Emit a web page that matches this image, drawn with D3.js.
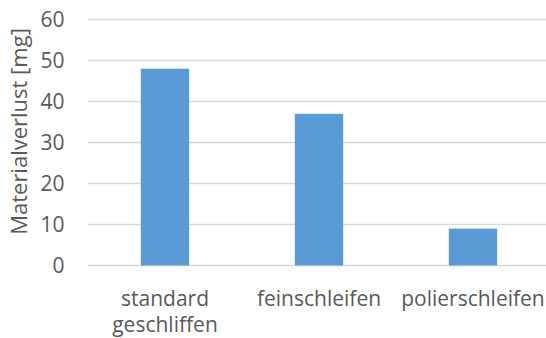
<!DOCTYPE html>
<html><head><meta charset="utf-8">
<script src="https://cdn.jsdelivr.net/npm/d3@7"></script>
<style>body{margin:0;background:#fff}svg{display:block}</style>
</head><body>
<svg id="c" width="546" height="338"></svg>
<script>
const categories = [["standard","geschliffen"],["feinschleifen"],["polierschleifen"]];
const values = [48, 37, 9];
const yTicks = [0,10,20,30,40,50,60];
const yTitle = "Materialverlust [mg]";

const svg = d3.select("#c");
const font = "'Open Sans', sans-serif";
const x = d3.scaleBand().domain(d3.range(categories.length)).range([88, 550]).padding(0);
const y = d3.scaleLinear().domain([0,60]).range([265.5, 19.5]);
const barW = x.bandwidth()*0.314;

svg.append("g").selectAll("line").data(yTicks).join("line")
  .attr("x1",88).attr("x2",546)
  .attr("y1",d=>y(d)).attr("y2",d=>y(d))
  .attr("stroke","#d9d9d9").attr("stroke-width",1.3);

svg.append("g").selectAll("text").data(yTicks).join("text")
  .attr("x",64.5).attr("y",d=>y(d)).attr("dy","0.36em")
  .attr("text-anchor","end").attr("font-family",font).attr("font-size",21)
  .attr("fill","#595959").text(d=>d);

svg.append("g").selectAll("rect").data(values).join("rect")
  .attr("x",(d,i)=>x(i)+x.bandwidth()/2-barW/2).attr("width",barW)
  .attr("y",d=>y(d)).attr("height",d=>y(0)-y(d))
  .attr("fill","#5b9bd5");

const cl = svg.append("g").selectAll("text").data(categories).join("text")
  .attr("x",(d,i)=>x(i)+x.bandwidth()/2).attr("y",306)
  .attr("text-anchor","middle").attr("font-family",font).attr("font-size",21)
  .attr("fill","#595959");
cl.selectAll("tspan").data(d=>d).join("tspan")
  .attr("x",function(){return this.parentNode.getAttribute("x");})
  .attr("dy",(d,i)=>i?25.5:0).text(d=>d);

svg.append("text").attr("transform","translate(26.5,131.5) rotate(-90)")
  .attr("text-anchor","middle").attr("font-family",font).attr("font-size",22)
  .attr("fill","#595959").text(yTitle);
</script>
</body></html>
